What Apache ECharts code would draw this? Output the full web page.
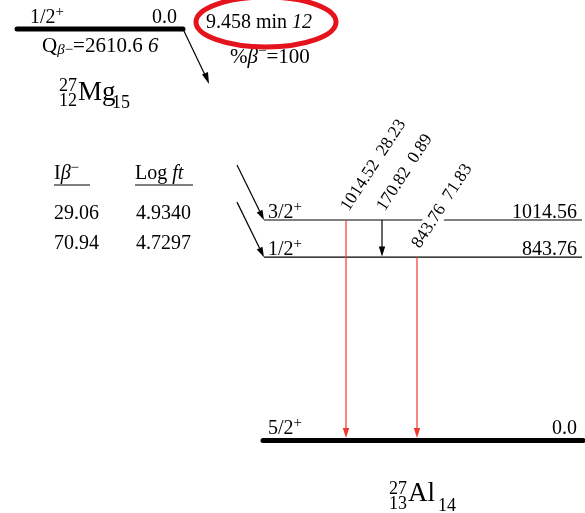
<!DOCTYPE html>
<html><head><meta charset="utf-8">
<style>html,body{margin:0;padding:0;background:#fff}#c{width:585px;height:513px}</style>
<script src="https://cdn.jsdelivr.net/npm/echarts@6/dist/echarts.min.js"></script>
</head><body><div id="c"></div>
<script>
// ---------- data ----------
const levelEnergies = [0, 843.76, 1014.56];
const levelEnergyLabels = ['0.0', '843.76', '1014.56'];
const levelSpins = ['5/2', '1/2', '3/2'];
const levelParities = ['+', '+', '+'];

const gammaEnergies = ['1014.52', '170.82', '843.76'];
const gammaIntensities = [28.23, 0.89, 71.83];
const gammaFromLevels = [1014.56, 1014.56, 843.76];
const gammaToLevels = [0, 843.76, 0];

const betaFedLevels = [1014.56, 843.76];
const betaIntensities = ['29.06', '70.94'];
const betaLogFt = ['4.9340', '4.7297'];

const parentSpin = '1/2';
const parentParity = '+';
const parentEnergy = '0.0';
const parentHalfLife = '9.458 min';
const parentHalfLifeUnc = '12';
const qValue = '2610.6';
const qValueUnc = '6';
const betaPercent = '100';

// ---------- layout (pixels) ----------
const W = 585, H = 513;
const LEVEL_X0 = 264, LEVEL_X1 = 582;
const GAMMA_X = [346, 382, 417];
const FONT = '"Liberation Serif", "DejaVu Serif", serif';
const RED = '#ee3a2c';
const FS = 20;

const chart = echarts.init(document.getElementById('c'), null, {renderer: 'canvas'});

function richSup(main, sup, size) {
  return {
    text: '{a|' + main + '}{s|' + sup + '}',
    rich: {
      a: {fontSize: size, fontFamily: FONT, fill: '#000', lineHeight: size + 6},
      s: {fontSize: 15, fontFamily: FONT, fill: '#000', verticalAlign: 'top', lineHeight: 15}
    }
  };
}
function plain(x, y, text, align, size) {
  return {type: 'text', x: x, y: y, style: {text: text, font: (size || FS) + 'px ' + FONT, fill: '#000', textAlign: align || 'left', textVerticalAlign: 'middle'}};
}

function gammaColor(I) { return I >= 10 ? RED : (I >= 2 ? '#2b4fd8' : '#000'); }

const option = {
  animation: false,
  grid: {left: 0, right: 0, top: 0, bottom: 0},
  xAxis: {type: 'value', min: 0, max: W, show: false},
  yAxis: {type: 'value', min: -333.6, max: 2027, show: false},
  series: [
    // levels of the daughter
    {
      type: 'custom', z: 2, silent: true, clip: false,
      data: levelEnergies.map((e, i) => [LEVEL_X0, e, i]),
      encode: {x: 0, y: 1},
      renderItem: function (params, api) {
        const E = api.value(1), i = api.value(2);
        const p0 = api.coord([LEVEL_X0, E]);
        const p1 = api.coord([LEVEL_X1, E]);
        const ground = E === 0;
        const children = [];
        children.push({
          type: 'line',
          shape: {x1: ground ? p0[0] - 1 : p0[0], y1: p0[1], x2: ground ? p1[0] + 1 : p1[0], y2: p1[1]},
          style: {stroke: '#000', lineWidth: ground ? 5 : 1.2, lineCap: ground ? 'round' : 'butt'}
        });
        const dy = ground ? -12 : -7.5;
        const sp = richSup(levelSpins[i], levelParities[i], FS);
        children.push({
          type: 'text', x: p0[0] + 4, y: p0[1] + dy,
          style: Object.assign({textAlign: 'left', textVerticalAlign: 'middle'}, sp)
        });
        children.push(plain(p1[0] - 5, p0[1] + dy, levelEnergyLabels[i], 'right'));
        return {type: 'group', children: children};
      }
    },
    // beta feeding arrows
    {
      type: 'custom', z: 3, silent: true, clip: false,
      data: betaFedLevels.map((e, i) => [LEVEL_X0, e, i]),
      encode: {x: 0, y: 1},
      renderItem: function (params, api) {
        const p = api.coord([api.value(0), api.value(1)]);
        const sx = p[0] - 27, sy = p[1] - 55;
        const ang = Math.atan2(p[1] - sy, p[0] - sx);
        const L = 10, hw = 3.2;
        const bx = p[0] - L * Math.cos(ang), by = p[1] - L * Math.sin(ang);
        const nx = -Math.sin(ang) * hw, ny = Math.cos(ang) * hw;
        return {type: 'group', children: [
          {type: 'line', shape: {x1: sx, y1: sy, x2: bx, y2: by}, style: {stroke: '#000', lineWidth: 1.2}},
          {type: 'polygon', shape: {points: [[p[0], p[1]], [bx + nx, by + ny], [bx - nx, by - ny]]}, style: {fill: '#000'}}
        ]};
      }
    },
    // gamma transitions
    {
      type: 'custom', z: 4, silent: true, clip: false,
      data: gammaFromLevels.map((e, i) => [GAMMA_X[i], e, gammaToLevels[i], i]),
      encode: {x: 0, y: 1},
      renderItem: function (params, api) {
        const x = api.value(0), i = api.value(3);
        const top = api.coord([x, api.value(1)]);
        const toE = api.value(2);
        const bot = api.coord([x, toE]);
        const tipY = bot[1] - (toE === 0 ? 2.5 : 0.6);
        const col = gammaColor(gammaIntensities[i]);
        const L = 10, hw = 3.2;
        const th = 57 * Math.PI / 180;
        return {type: 'group', children: [
          {type: 'line', shape: {x1: top[0], y1: top[1], x2: top[0], y2: tipY - L + 1}, style: {stroke: col, lineWidth: 1.2}},
          {type: 'polygon', shape: {points: [[top[0], tipY], [top[0] - hw, tipY - L], [top[0] + hw, tipY - L]]}, style: {fill: col}},
          {type: 'text', x: top[0] + 6, y: top[1] - 5, rotation: th,
           style: {text: gammaEnergies[i] + '  ' + gammaIntensities[i].toFixed(2), font: '17.5px ' + FONT, fill: '#000',
                   textAlign: 'left', textVerticalAlign: 'bottom', backgroundColor: '#fff', padding: [0, 2, 0, 1]}}
        ]};
      }
    }
  ],
  graphic: {elements: [
    // parent level
    {type: 'line', shape: {x1: 17, y1: 29, x2: 183, y2: 29}, style: {stroke: '#000', lineWidth: 5, lineCap: 'round'}},
    {type: 'text', x: 30, y: 18, style: Object.assign({textAlign: 'left', textVerticalAlign: 'middle'}, richSup(parentSpin, parentParity, FS))},
    plain(177, 18, parentEnergy, 'right'),
    {type: 'text', x: 42, y: 46, style: {
      text: '{a|Q}{b|β}{c|−}{a|=' + qValue + ' }{i|' + qValueUnc + '}',
      textAlign: 'left', textVerticalAlign: 'middle',
      rich: {
        a: {fontSize: 21, fontFamily: FONT, fill: '#000', lineHeight: 24},
        b: {fontSize: 15, fontFamily: FONT, fontStyle: 'italic', fill: '#000', verticalAlign: 'bottom', lineHeight: 15},
        c: {fontSize: 15, fontFamily: FONT, fill: '#000', verticalAlign: 'bottom', lineHeight: 20},
        i: {fontSize: 21, fontFamily: FONT, fontStyle: 'italic', fill: '#000', lineHeight: 24}
      }}},
    // parent decay arrow
    {type: 'line', shape: {x1: 183, y1: 29, x2: 205, y2: 75}, style: {stroke: '#000', lineWidth: 1.2}},
    {type: 'polygon', shape: {points: [[209, 84], [202, 74.5], [208, 72]]}, style: {fill: '#000'}},
    // half-life
    {type: 'text', x: 206, y: 23, style: {
      text: '{a|' + parentHalfLife + ' }{i|' + parentHalfLifeUnc + '}', textAlign: 'left', textVerticalAlign: 'middle',
      rich: {a: {fontSize: FS, fontFamily: FONT, fill: '#000'}, i: {fontSize: FS, fontFamily: FONT, fontStyle: 'italic', fill: '#000'}}}},
    {type: 'text', x: 230, y: 57, style: {
      text: '{a|%}{b|β}{s|−}{a|=' + betaPercent + '}', textAlign: 'left', textVerticalAlign: 'middle',
      rich: {a: {fontSize: 21, fontFamily: FONT, fill: '#000', lineHeight: 26},
             b: {fontSize: 21, fontFamily: FONT, fontStyle: 'italic', fill: '#000', lineHeight: 26},
             s: {fontSize: 15, fontFamily: FONT, fill: '#000', verticalAlign: 'top', lineHeight: 15}}}},
    {type: 'ellipse', shape: {cx: 266, cy: 22, rx: 70, ry: 25}, style: {fill: null, stroke: '#e5141c', lineWidth: 5}, z: 10},
    // parent nuclide
    plain(77, 86, '27', 'right', 18),
    plain(77, 101, '12', 'right', 18),
    plain(78, 92.5, 'Mg', 'left', 27),
    plain(112, 103, '15', 'left', 18),
    // daughter nuclide
    plain(407, 489, '27', 'right', 18),
    plain(407, 504, '13', 'right', 18),
    plain(408, 494, 'Al', 'left', 27),
    plain(438, 506, '14', 'left', 18),
    // beta table header
    {type: 'text', x: 54, y: 174, style: {
      text: '{a|I}{b|β}{s|−}', textAlign: 'left', textVerticalAlign: 'middle',
      rich: {a: {fontSize: FS, fontFamily: FONT, fill: '#000', lineHeight: 26},
             b: {fontSize: FS, fontFamily: FONT, fontStyle: 'italic', fill: '#000', lineHeight: 26},
             s: {fontSize: 15, fontFamily: FONT, fill: '#000', verticalAlign: 'top', lineHeight: 15}}}},
    {type: 'line', shape: {x1: 54, y1: 185, x2: 90, y2: 185}, style: {stroke: '#000', lineWidth: 1}},
    {type: 'text', x: 135, y: 174, style: {
      text: '{a|Log }{i|ft}', textAlign: 'left', textVerticalAlign: 'middle',
      rich: {a: {fontSize: FS, fontFamily: FONT, fill: '#000'}, i: {fontSize: FS, fontFamily: FONT, fontStyle: 'italic', fill: '#000'}}}},
    {type: 'line', shape: {x1: 135, y1: 185, x2: 193, y2: 185}, style: {stroke: '#000', lineWidth: 1}},
    plain(54, 214, betaIntensities[0]),
    plain(136, 214, betaLogFt[0]),
    plain(54, 244, betaIntensities[1]),
    plain(136, 244, betaLogFt[1])
  ]}
};
chart.setOption(option);
</script>
</body></html>
